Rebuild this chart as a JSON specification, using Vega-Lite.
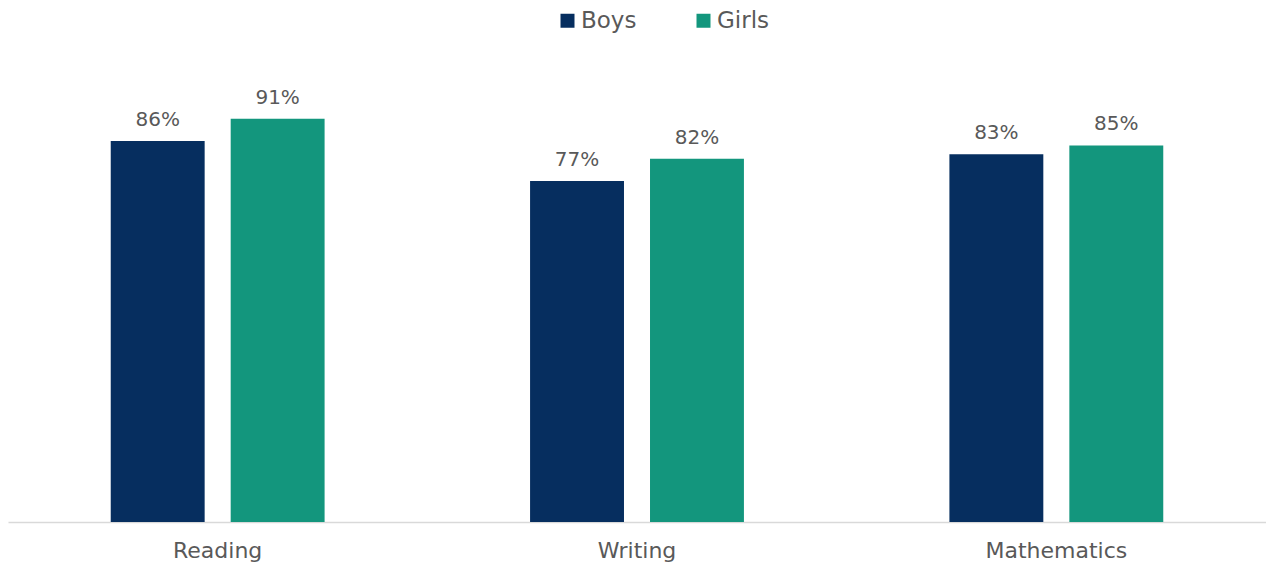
{
  "$schema": "https://vega.github.io/schema/vega-lite/v6.json",
  "autosize": "none",
  "width": 1258,
  "height": 443,
  "padding": {"left": 8, "top": 79, "right": 0, "bottom": 47},
  "background": "white",
  "config": {"view": {"stroke": null}, "font": "DejaVu Sans"},
  "data": {"values": [
    {"subject": "Reading", "gender": "Boys", "value": 0.86},
    {"subject": "Reading", "gender": "Girls", "value": 0.91},
    {"subject": "Writing", "gender": "Boys", "value": 0.77},
    {"subject": "Writing", "gender": "Girls", "value": 0.82},
    {"subject": "Mathematics", "gender": "Boys", "value": 0.83},
    {"subject": "Mathematics", "gender": "Girls", "value": 0.85}
  ]},
  "encoding": {
    "x": {"field": "subject", "type": "nominal", "sort": ["Reading", "Writing", "Mathematics"],
      "scale": {"paddingInner": 0.49, "paddingOuter": 0.245},
      "axis": {"title": null, "labelAngle": 0, "labelFontSize": 22, "labelColor": "#595959", "labelPadding": 18, "ticks": false, "domainColor": "#D9D9D9", "domainWidth": 1.5}},
    "xOffset": {"field": "gender", "type": "nominal", "scale": {"paddingInner": 0.217}},
    "y": {"field": "value", "type": "quantitative", "scale": {"domain": [0, 1]}, "axis": null}
  },
  "layer": [
    {"mark": {"type": "bar"},
      "encoding": {"color": {"field": "gender", "type": "nominal",
        "scale": {"domain": ["Boys", "Girls"], "range": ["#062E5F", "#13967D"]},
        "legend": {"title": null, "orient": "none", "legendX": 548, "legendY": -70, "direction": "horizontal",
          "symbolType": "square", "symbolSize": 196, "labelFontSize": 23, "labelColor": "#595959", "columnPadding": 55, "labelOffset": 2, "symbolStrokeWidth": 0}}}},
    {"mark": {"type": "text", "baseline": "alphabetic", "dy": -15, "fontSize": 20, "color": "#595959"},
      "encoding": {"text": {"field": "value", "type": "quantitative", "format": ".0%"}}}
  ]
}
